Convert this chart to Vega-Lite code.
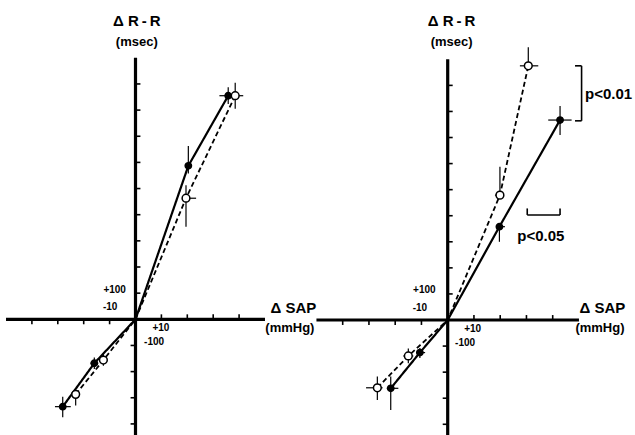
{
 "$schema": "https://vega.github.io/schema/vega-lite/v6.json",
 "padding": 0,
 "spacing": 0,
 "bounds": "flush",
 "config": {"view": {"stroke": null}, "text": {"font": "Liberation Sans", "fontWeight": "bold", "color": "black"}},
 "datasets": {
  "pts": [
   {"p":"L","g":"solid","x":35.8,"y":855,"xlo":32.4,"xhi":39.2,"ylo":823,"yhi":887},
   {"p":"L","g":"open","x":38.5,"y":855,"xlo":35.4,"xhi":41.6,"ylo":805,"yhi":905},
   {"p":"L","g":"solid","x":20.4,"y":587,"xlo":19.1,"xhi":21.7,"ylo":558,"yhi":663},
   {"p":"L","g":"open","x":19.5,"y":463,"xlo":18.2,"xhi":23.4,"ylo":354,"yhi":513},
   {"p":"L","g":"solid","x":-15.9,"y":-168,"xlo":-17.4,"xhi":-14.4,"ylo":-190,"yhi":-146},
   {"p":"L","g":"open","x":-12.4,"y":-156,"xlo":-13.8,"xhi":-11.0,"ylo":-178,"yhi":-134},
   {"p":"L","g":"open","x":-23.1,"y":-287,"xlo":-24.4,"xhi":-21.8,"ylo":-330,"yhi":-270},
   {"p":"L","g":"solid","x":-28.1,"y":-334,"xlo":-31.1,"xhi":-25.0,"ylo":-375,"yhi":-296},
   {"p":"R","g":"open","x":30.7,"y":975,"xlo":27.5,"xhi":34.5,"ylo":960,"yhi":1046},
   {"p":"R","g":"solid","x":42.8,"y":767,"xlo":38.3,"xhi":47.2,"ylo":710,"yhi":821},
   {"p":"R","g":"open","x":19.9,"y":479,"xlo":18.0,"xhi":19.9,"ylo":479,"yhi":588},
   {"p":"R","g":"solid","x":19.7,"y":358,"xlo":19.7,"xhi":21.8,"ylo":300,"yhi":358},
   {"p":"R","g":"open","x":-15.0,"y":-138,"xlo":-16.9,"xhi":-13.1,"ylo":-166,"yhi":-109},
   {"p":"R","g":"solid","x":-10.6,"y":-125,"xlo":-11.8,"xhi":-8.6,"ylo":-146,"yhi":-107},
   {"p":"R","g":"open","x":-26.8,"y":-260,"xlo":-31.1,"xhi":-24.8,"ylo":-307,"yhi":-217},
   {"p":"R","g":"solid","x":-21.7,"y":-262,"xlo":-23.2,"xhi":-18.8,"ylo":-345,"yhi":-217}
  ],
  "lines": [
   {"p":"L","g":"solid","x":-28.1,"y":-334},{"p":"L","g":"solid","x":-15.9,"y":-168},{"p":"L","g":"solid","x":0,"y":0},{"p":"L","g":"solid","x":20.4,"y":587},{"p":"L","g":"solid","x":35.8,"y":855},
   {"p":"L","g":"open","x":-23.1,"y":-287},{"p":"L","g":"open","x":-12.4,"y":-156},{"p":"L","g":"open","x":0,"y":0},{"p":"L","g":"open","x":19.5,"y":463},{"p":"L","g":"open","x":38.5,"y":855},
   {"p":"R","g":"solid","x":-21.7,"y":-262},{"p":"R","g":"solid","x":-10.6,"y":-125},{"p":"R","g":"solid","x":0,"y":0},{"p":"R","g":"solid","x":19.7,"y":358},{"p":"R","g":"solid","x":42.8,"y":767},
   {"p":"R","g":"open","x":-26.8,"y":-260},{"p":"R","g":"open","x":-15.0,"y":-138},{"p":"R","g":"open","x":0,"y":0},{"p":"R","g":"open","x":19.9,"y":479},{"p":"R","g":"open","x":30.7,"y":975}
  ],
  "segs": [
   {"p":"L","k":"axis","x":-50,"x2":50,"y":0,"y2":0},
   {"p":"L","k":"axis","x":0,"x2":0,"y":1000,"y2":-445},
   {"p":"R","k":"axis","x":-50,"x2":50,"y":0,"y2":0},
   {"p":"R","k":"axis","x":0,"x2":0,"y":1000,"y2":-445},
   {"p":"L","k":"tick","x":10,"x2":10,"y":0,"y2":19},{"p":"L","k":"tick","x":20,"x2":20,"y":0,"y2":19},{"p":"L","k":"tick","x":30,"x2":30,"y":0,"y2":19},{"p":"L","k":"tick","x":40,"x2":40,"y":0,"y2":19},
   {"p":"L","k":"tick","x":-10,"x2":-10,"y":0,"y2":-19},{"p":"L","k":"tick","x":-20,"x2":-20,"y":0,"y2":-19},{"p":"L","k":"tick","x":-30,"x2":-30,"y":0,"y2":-19},{"p":"L","k":"tick","x":-40,"x2":-40,"y":0,"y2":-19},
   {"p":"L","k":"tick","x":0,"x2":1.9,"y":100,"y2":100},{"p":"L","k":"tick","x":0,"x2":1.9,"y":200,"y2":200},{"p":"L","k":"tick","x":0,"x2":1.9,"y":300,"y2":300},{"p":"L","k":"tick","x":0,"x2":1.9,"y":400,"y2":400},{"p":"L","k":"tick","x":0,"x2":1.9,"y":500,"y2":500},{"p":"L","k":"tick","x":0,"x2":1.9,"y":600,"y2":600},{"p":"L","k":"tick","x":0,"x2":1.9,"y":700,"y2":700},{"p":"L","k":"tick","x":0,"x2":1.9,"y":800,"y2":800},{"p":"L","k":"tick","x":0,"x2":1.9,"y":900,"y2":900},
   {"p":"L","k":"tick","x":0,"x2":-1.9,"y":-100,"y2":-100},{"p":"L","k":"tick","x":0,"x2":-1.9,"y":-200,"y2":-200},{"p":"L","k":"tick","x":0,"x2":-1.9,"y":-300,"y2":-300},{"p":"L","k":"tick","x":0,"x2":-1.9,"y":-400,"y2":-400},
   {"p":"R","k":"tick","x":10,"x2":10,"y":0,"y2":19},{"p":"R","k":"tick","x":20,"x2":20,"y":0,"y2":19},{"p":"R","k":"tick","x":30,"x2":30,"y":0,"y2":19},{"p":"R","k":"tick","x":40,"x2":40,"y":0,"y2":19},
   {"p":"R","k":"tick","x":-10,"x2":-10,"y":0,"y2":-19},{"p":"R","k":"tick","x":-20,"x2":-20,"y":0,"y2":-19},{"p":"R","k":"tick","x":-30,"x2":-30,"y":0,"y2":-19},{"p":"R","k":"tick","x":-40,"x2":-40,"y":0,"y2":-19},
   {"p":"R","k":"tick","x":0,"x2":1.9,"y":100,"y2":100},{"p":"R","k":"tick","x":0,"x2":1.9,"y":200,"y2":200},{"p":"R","k":"tick","x":0,"x2":1.9,"y":300,"y2":300},{"p":"R","k":"tick","x":0,"x2":1.9,"y":400,"y2":400},{"p":"R","k":"tick","x":0,"x2":1.9,"y":500,"y2":500},{"p":"R","k":"tick","x":0,"x2":1.9,"y":600,"y2":600},{"p":"R","k":"tick","x":0,"x2":1.9,"y":700,"y2":700},{"p":"R","k":"tick","x":0,"x2":1.9,"y":800,"y2":800},{"p":"R","k":"tick","x":0,"x2":1.9,"y":900,"y2":900},
   {"p":"R","k":"tick","x":0,"x2":-1.9,"y":-100,"y2":-100},{"p":"R","k":"tick","x":0,"x2":-1.9,"y":-200,"y2":-200},{"p":"R","k":"tick","x":0,"x2":-1.9,"y":-300,"y2":-300},{"p":"R","k":"tick","x":0,"x2":-1.9,"y":-400,"y2":-400},
   {"p":"R","k":"bracket","x":51,"x2":51,"y":975,"y2":764},
   {"p":"R","k":"bracket","x":48.5,"x2":51,"y":975,"y2":975},
   {"p":"R","k":"bracket","x":48.5,"x2":51,"y":764,"y2":764},
   {"p":"R","k":"bracket","x":30.3,"x2":42.8,"y":403,"y2":403},
   {"p":"R","k":"bracket","x":30.3,"x2":30.3,"y":403,"y2":428},
   {"p":"R","k":"bracket","x":42.8,"x2":42.8,"y":403,"y2":428}
  ],
  "textC": [
   {"p":"L","k":"title","x":0.5,"y":1140,"t":"Δ R\u2009-\u2009R"},
   {"p":"L","k":"unit","x":0.5,"y":1062,"t":"(msec)"},
   {"p":"L","k":"title","x":61,"y":42,"t":"Δ SAP"},
   {"p":"L","k":"unit","x":59.6,"y":-34,"t":"(mmHg)"},
   {"p":"L","k":"tick","x":-9.8,"y":48,"t":"-10"},
   {"p":"L","k":"tick","x":9.8,"y":-33,"t":"+10"},
   {"p":"R","k":"title","x":1.5,"y":1146,"t":"Δ R\u2009-\u2009R"},
   {"p":"R","k":"unit","x":1.5,"y":1067,"t":"(msec)"},
   {"p":"R","k":"title","x":58.9,"y":45,"t":"Δ SAP"},
   {"p":"R","k":"unit","x":58,"y":-32,"t":"(mmHg)"},
   {"p":"R","k":"tick","x":-10.6,"y":45,"t":"-10"},
   {"p":"R","k":"tick","x":9.5,"y":-35,"t":"+10"}
  ],
  "textL": [
   {"p":"L","k":"tick","x":3.3,"y":-86,"t":"-100"},
   {"p":"R","k":"tick","x":2.8,"y":-89,"t":"-100"},
   {"p":"R","k":"pval","x":52.3,"y":867,"t":"p<0.01"},
   {"p":"R","k":"pval","x":26.5,"y":323,"t":"p<0.05"}
  ],
  "textR": [
   {"p":"L","k":"tick","x":-3.7,"y":112,"t":"+100"},
   {"p":"R","k":"tick","x":-4.6,"y":115,"t":"+100"}
  ]
 },
 "hconcat": [
  {
   "width": 315, "height": 435,
   "resolve": {"scale": {"size": "independent", "strokeWidth": "independent", "strokeDash": "independent", "fill": "independent"}},
   "layer": [
    {"data":{"name":"segs"},"transform":[{"filter":"datum.p=='L'"}],"mark":{"type":"rule","color":"black"},
     "encoding":{"x":{"field":"x","type":"quantitative","scale":{"domain":[-52.32,69.31],"nice":false,"zero":false},"axis":null},"x2":{"field":"x2"},
      "y":{"field":"y","type":"quantitative","scale":{"domain":[-442.4,1221.0],"nice":false,"zero":false},"axis":null},"y2":{"field":"y2"},
      "strokeWidth":{"field":"k","type":"nominal","scale":{"type":"ordinal","domain":["axis","tick","bracket"],"range":[3.2,1.6,1.6]},"legend":null}}},
    {"data":{"name":"pts"},"transform":[{"filter":"datum.p=='L'"}],"mark":{"type":"rule","color":"black","strokeWidth":1.2},
     "encoding":{"x":{"field":"xlo","type":"quantitative","scale":{"domain":[-52.32,69.31],"nice":false,"zero":false},"axis":null},"x2":{"field":"xhi"},
      "y":{"field":"y","type":"quantitative","scale":{"domain":[-442.4,1221.0],"nice":false,"zero":false},"axis":null}}},
    {"data":{"name":"pts"},"transform":[{"filter":"datum.p=='L'"}],"mark":{"type":"rule","color":"black","strokeWidth":1.2},
     "encoding":{"x":{"field":"x","type":"quantitative","scale":{"domain":[-52.32,69.31],"nice":false,"zero":false},"axis":null},
      "y":{"field":"ylo","type":"quantitative","scale":{"domain":[-442.4,1221.0],"nice":false,"zero":false},"axis":null},"y2":{"field":"yhi"}}},
    {"data":{"name":"lines"},"transform":[{"filter":"datum.p=='L'"}],"mark":{"type":"line","color":"black"},
     "encoding":{"x":{"field":"x","type":"quantitative","scale":{"domain":[-52.32,69.31],"nice":false,"zero":false},"axis":null},
      "y":{"field":"y","type":"quantitative","scale":{"domain":[-442.4,1221.0],"nice":false,"zero":false},"axis":null},
      "detail":{"field":"g"},
      "strokeDash":{"field":"g","type":"nominal","scale":{"domain":["solid","open"],"range":[[1,0],[5,3]]},"legend":null},
      "strokeWidth":{"field":"g","type":"nominal","scale":{"type":"ordinal","domain":["solid","open"],"range":[2.2,1.8]},"legend":null}}},
    {"data":{"name":"pts"},"transform":[{"filter":"datum.p=='L'"}],"mark":{"type":"point","shape":"circle","filled":true,"stroke":"black","strokeWidth":1.5,"opacity":1},
     "encoding":{"x":{"field":"x","type":"quantitative","scale":{"domain":[-52.32,69.31],"nice":false,"zero":false},"axis":null},
      "y":{"field":"y","type":"quantitative","scale":{"domain":[-442.4,1221.0],"nice":false,"zero":false},"axis":null},
      "fill":{"field":"g","type":"nominal","scale":{"domain":["solid","open"],"range":["black","white"]},"legend":null},
      "size":{"field":"g","type":"nominal","scale":{"type":"ordinal","domain":["solid","open"],"range":[40,60]},"legend":null}}},
    {"data":{"name":"textC"},"transform":[{"filter":"datum.p=='L'"}],"mark":{"type":"text","align":"center","baseline":"middle"},
     "encoding":{"x":{"field":"x","type":"quantitative","scale":{"domain":[-52.32,69.31],"nice":false,"zero":false},"axis":null},
      "y":{"field":"y","type":"quantitative","scale":{"domain":[-442.4,1221.0],"nice":false,"zero":false},"axis":null},
      "text":{"field":"t"},
      "size":{"field":"k","type":"nominal","scale":{"type":"ordinal","domain":["title","unit","tick","pval"],"range":[15,13,10,15]},"legend":null}}},
    {"data":{"name":"textL"},"transform":[{"filter":"datum.p=='L'"}],"mark":{"type":"text","align":"left","baseline":"middle"},
     "encoding":{"x":{"field":"x","type":"quantitative","scale":{"domain":[-52.32,69.31],"nice":false,"zero":false},"axis":null},
      "y":{"field":"y","type":"quantitative","scale":{"domain":[-442.4,1221.0],"nice":false,"zero":false},"axis":null},
      "text":{"field":"t"},
      "size":{"field":"k","type":"nominal","scale":{"type":"ordinal","domain":["title","unit","tick","pval"],"range":[15,13,10,15]},"legend":null}}},
    {"data":{"name":"textR"},"transform":[{"filter":"datum.p=='L'"}],"mark":{"type":"text","align":"right","baseline":"middle"},
     "encoding":{"x":{"field":"x","type":"quantitative","scale":{"domain":[-52.32,69.31],"nice":false,"zero":false},"axis":null},
      "y":{"field":"y","type":"quantitative","scale":{"domain":[-442.4,1221.0],"nice":false,"zero":false},"axis":null},
      "text":{"field":"t"},
      "size":{"field":"k","type":"nominal","scale":{"type":"ordinal","domain":["title","unit","tick","pval"],"range":[15,13,10,15]},"legend":null}}}
   ]
  },
  {
   "width": 320, "height": 435,
   "resolve": {"scale": {"size": "independent", "strokeWidth": "independent", "strokeDash": "independent", "fill": "independent"}},
   "layer": [
    {"data":{"name":"segs"},"transform":[{"filter":"datum.p=='R'"}],"mark":{"type":"rule","color":"black"},
     "encoding":{"x":{"field":"x","type":"quantitative","scale":{"domain":[-50.55,71.35],"nice":false,"zero":false},"axis":null},"x2":{"field":"x2"},
      "y":{"field":"y","type":"quantitative","scale":{"domain":[-441.1,1227.5],"nice":false,"zero":false},"axis":null},"y2":{"field":"y2"},
      "strokeWidth":{"field":"k","type":"nominal","scale":{"type":"ordinal","domain":["axis","tick","bracket"],"range":[3.2,1.6,1.6]},"legend":null}}},
    {"data":{"name":"pts"},"transform":[{"filter":"datum.p=='R'"}],"mark":{"type":"rule","color":"black","strokeWidth":1.2},
     "encoding":{"x":{"field":"xlo","type":"quantitative","scale":{"domain":[-50.55,71.35],"nice":false,"zero":false},"axis":null},"x2":{"field":"xhi"},
      "y":{"field":"y","type":"quantitative","scale":{"domain":[-441.1,1227.5],"nice":false,"zero":false},"axis":null}}},
    {"data":{"name":"pts"},"transform":[{"filter":"datum.p=='R'"}],"mark":{"type":"rule","color":"black","strokeWidth":1.2},
     "encoding":{"x":{"field":"x","type":"quantitative","scale":{"domain":[-50.55,71.35],"nice":false,"zero":false},"axis":null},
      "y":{"field":"ylo","type":"quantitative","scale":{"domain":[-441.1,1227.5],"nice":false,"zero":false},"axis":null},"y2":{"field":"yhi"}}},
    {"data":{"name":"lines"},"transform":[{"filter":"datum.p=='R'"}],"mark":{"type":"line","color":"black"},
     "encoding":{"x":{"field":"x","type":"quantitative","scale":{"domain":[-50.55,71.35],"nice":false,"zero":false},"axis":null},
      "y":{"field":"y","type":"quantitative","scale":{"domain":[-441.1,1227.5],"nice":false,"zero":false},"axis":null},
      "detail":{"field":"g"},
      "strokeDash":{"field":"g","type":"nominal","scale":{"domain":["solid","open"],"range":[[1,0],[5,3]]},"legend":null},
      "strokeWidth":{"field":"g","type":"nominal","scale":{"type":"ordinal","domain":["solid","open"],"range":[2.2,1.8]},"legend":null}}},
    {"data":{"name":"pts"},"transform":[{"filter":"datum.p=='R'"}],"mark":{"type":"point","shape":"circle","filled":true,"stroke":"black","strokeWidth":1.5,"opacity":1},
     "encoding":{"x":{"field":"x","type":"quantitative","scale":{"domain":[-50.55,71.35],"nice":false,"zero":false},"axis":null},
      "y":{"field":"y","type":"quantitative","scale":{"domain":[-441.1,1227.5],"nice":false,"zero":false},"axis":null},
      "fill":{"field":"g","type":"nominal","scale":{"domain":["solid","open"],"range":["black","white"]},"legend":null},
      "size":{"field":"g","type":"nominal","scale":{"type":"ordinal","domain":["solid","open"],"range":[40,60]},"legend":null}}},
    {"data":{"name":"textC"},"transform":[{"filter":"datum.p=='R'"}],"mark":{"type":"text","align":"center","baseline":"middle"},
     "encoding":{"x":{"field":"x","type":"quantitative","scale":{"domain":[-50.55,71.35],"nice":false,"zero":false},"axis":null},
      "y":{"field":"y","type":"quantitative","scale":{"domain":[-441.1,1227.5],"nice":false,"zero":false},"axis":null},
      "text":{"field":"t"},
      "size":{"field":"k","type":"nominal","scale":{"type":"ordinal","domain":["title","unit","tick","pval"],"range":[15,13,10,15]},"legend":null}}},
    {"data":{"name":"textL"},"transform":[{"filter":"datum.p=='R'"}],"mark":{"type":"text","align":"left","baseline":"middle"},
     "encoding":{"x":{"field":"x","type":"quantitative","scale":{"domain":[-50.55,71.35],"nice":false,"zero":false},"axis":null},
      "y":{"field":"y","type":"quantitative","scale":{"domain":[-441.1,1227.5],"nice":false,"zero":false},"axis":null},
      "text":{"field":"t"},
      "size":{"field":"k","type":"nominal","scale":{"type":"ordinal","domain":["title","unit","tick","pval"],"range":[15,13,10,15]},"legend":null}}},
    {"data":{"name":"textR"},"transform":[{"filter":"datum.p=='R'"}],"mark":{"type":"text","align":"right","baseline":"middle"},
     "encoding":{"x":{"field":"x","type":"quantitative","scale":{"domain":[-50.55,71.35],"nice":false,"zero":false},"axis":null},
      "y":{"field":"y","type":"quantitative","scale":{"domain":[-441.1,1227.5],"nice":false,"zero":false},"axis":null},
      "text":{"field":"t"},
      "size":{"field":"k","type":"nominal","scale":{"type":"ordinal","domain":["title","unit","tick","pval"],"range":[15,13,10,15]},"legend":null}}}
   ]
  }
 ]
}
